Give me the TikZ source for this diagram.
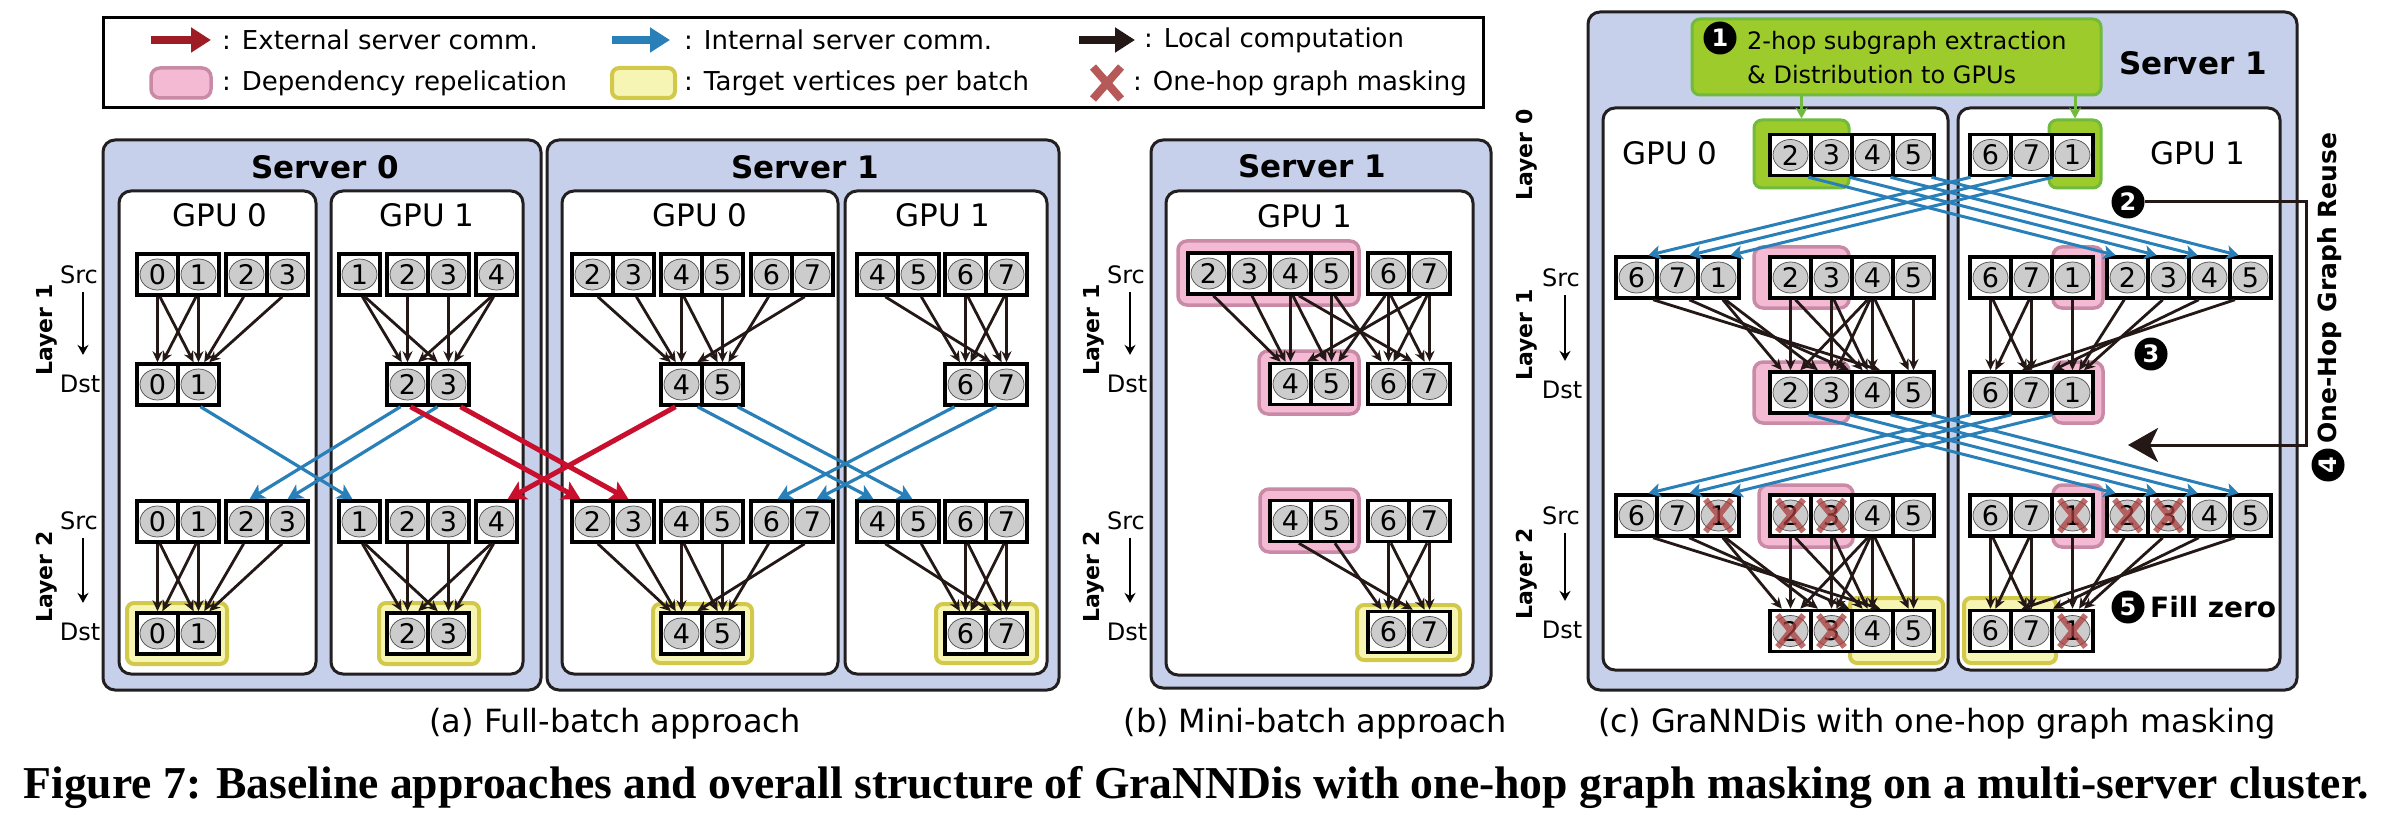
\documentclass[tikz,border=0pt]{standalone}
\usepackage{fontspec}
\setmainfont{DejaVu Sans}
\newfontfamily\capfont{Liberation Serif}
\usepackage{graphicx}
\usetikzlibrary{arrows.meta,calc}
\newcommand{\fsz}[1]{\fontsize{#1pt}{#1pt}\selectfont}
\definecolor{srvfill}{RGB}{198,208,234}
\definecolor{frame}{RGB}{35,31,32}
\definecolor{cellgray}{RGB}{204,204,204}
\definecolor{redc}{RGB}{200,16,46}
\definecolor{redleg}{RGB}{158,28,36}
\definecolor{bluec}{RGB}{41,128,185}
\definecolor{edgec}{RGB}{35,24,21}
\definecolor{pinkf}{RGB}{244,186,212}
\definecolor{pinkd}{RGB}{201,138,166}
\definecolor{yelf}{RGB}{247,245,180}
\definecolor{yeld}{RGB}{210,200,74}
\definecolor{greenf}{RGB}{157,203,44}
\definecolor{greend}{RGB}{112,186,60}
\definecolor{maskc}{RGB}{170,60,60}
\newcommand{\cg}[4]{\foreach \dd [count=\ii from 0] in {#4}{\node[cell] (#1-\dd) at ({#2+20.5+41*\ii},{#3}) {\dd};}}
\newcommand{\bx}[6]{\node[#2,minimum width={#5-#3},minimum height={#6-#4}] (#1) at ({(#3+#5)/2},{(#4+#6)/2}) {};}
\newcommand{\ed}[2]{\draw[loc] let \p1=(#1.south),\p2=(#2.north) in ({\x1+0.06*(\x2-\x1)},\y1) -- ({\x2+0.12*(\x1-\x2)},\y2);}
\newcommand{\xm}[1]{\draw[maskx] ([xshift=-13pt,yshift=16pt]#1.center) -- ([xshift=13pt,yshift=-16pt]#1.center) ([xshift=13pt,yshift=16pt]#1.center) -- ([xshift=-13pt,yshift=-16pt]#1.center);}
\begin{document}
\begin{tikzpicture}[x=1pt,y=-1pt,
 srv/.style={draw=frame,line width=3pt,fill=srvfill,rounded corners=12pt,inner sep=0pt,outer sep=0pt},
 gpu/.style={draw=frame,line width=3pt,fill=white,rounded corners=12pt,inner sep=0pt,outer sep=0pt},
 pinkhl/.style={draw=pinkd,fill=pinkf,line width=3.5pt,rounded corners=9pt,inner sep=0pt},
 yelhl/.style={draw=yeld,fill=yelf,line width=4pt,rounded corners=7pt,inner sep=0pt},
 grnhl/.style={draw=greend,fill=greenf,line width=3pt,rounded corners=8pt,inner sep=0pt},
 cell/.style={draw=black,line width=3.5pt,fill=white,minimum width=41pt,minimum height=41pt,inner sep=0pt,font=\fsz{27},
   path picture={\fill[cellgray] (path picture bounding box.center) ellipse [x radius=17.5pt,y radius=15.5pt];
                 \draw[gray!60!black,line width=0.7pt] (path picture bounding box.center) ellipse [x radius=17.5pt,y radius=15.5pt];}},
 loc/.style={draw=edgec,line width=2.8pt,-{Stealth[length=11pt,width=10pt]}},
 extc/.style={draw=redc,line width=5pt,-{Stealth[length=18pt,width=20pt,inset=4pt]}},
 intc/.style={draw=bluec,line width=3.2pt,-{Stealth[length=15pt,width=16pt,inset=4pt]}},
 intcc/.style={draw=bluec,line width=3pt,-{Stealth[length=12pt,width=14pt,inset=3pt]}},
 maskx/.style={draw=maskc,opacity=0.75,line width=6pt},
 mk/.style={circle,fill=black,text=white,inner sep=0pt,minimum size=33pt,font=\bfseries\fsz{24}},
 ttl/.style={font=\bfseries\fsz{31},inner sep=0pt},
 gl/.style={font=\fsz{31},inner sep=0pt},
 lyr/.style={rotate=90,font=\bfseries\fsz{22},inner sep=0pt},
 sd/.style={font=\fsz{24},inner sep=0pt},
 sdarrow/.style={draw=black,line width=2.5pt,shorten <=8pt,shorten >=20pt,-{Stealth[length=10pt,width=11pt]}},
 leg/.style={font=\fsz{26},anchor=west,inner sep=0pt},
 sub/.style={font=\fsz{32},inner sep=0pt}]
\useasboundingbox (0,0) rectangle (2382,818);
\fill[white] (0,0) rectangle (2382,818);

% ---------------- Legend ----------------
\bx{legend}{draw=black,line width=3pt,inner sep=0pt}{103}{18}{1483}{108}
\coordinate (lra) at (151,40); \coordinate (lrb) at (211,40);
\draw[draw=redleg,line width=8pt,-{Triangle[length=20pt,width=24pt]}] (lra) -- (lrb);
\node[leg] (lt1) at (222,40) {: External server comm.};
\coordinate (lba) at (612,40); \coordinate (lbb) at (670,40);
\draw[draw=bluec,line width=8pt,-{Triangle[length=20pt,width=24pt]}] (lba) -- (lbb);
\node[leg] (lt2) at (684,40) {: Internal server comm.};
\coordinate (lka) at (1079,40); \coordinate (lkb) at (1135,40);
\draw[draw=edgec,line width=8pt,-{Triangle[length=20pt,width=24pt]}] (lka) -- (lkb);
\node[leg] (lt3) at (1144,40) {: Local computation};
\bx{lpink}{pinkhl}{151}{68}{211}{98}
\node[leg] (lt4) at (222,83) {: Dependency repelication};
\bx{lyel}{yelhl}{612}{68}{675}{98}
\node[leg] (lt5) at (684,83) {: Target vertices per batch};
\coordinate (lxc) at (1107,83);
\draw[draw=maskc!85!white,line width=8pt] ([xshift=-14pt,yshift=16pt]lxc) -- ([xshift=14pt,yshift=-16pt]lxc) ([xshift=14pt,yshift=16pt]lxc) -- ([xshift=-14pt,yshift=-16pt]lxc);
\node[leg] (lt6) at (1133,83) {: One-hop graph masking};

% ---------------- containers ----------------
\bx{S0a}{srv}{103}{140}{541}{690}
\bx{S1a}{srv}{547}{140}{1059}{690}
\bx{S1b}{srv}{1151}{140}{1491}{688}
\bx{S1c}{srv}{1588}{12}{2297}{690}
\bx{G00}{gpu}{119}{191}{316}{674}
\bx{G01}{gpu}{331}{191}{523}{674}
\bx{G10}{gpu}{562}{191}{838}{674}
\bx{G11}{gpu}{845}{191}{1047}{674}
\bx{Gb}{gpu}{1166}{191}{1473}{675}
\bx{Gc0}{gpu}{1603}{108}{1948}{670}
\bx{Gc1}{gpu}{1958}{108}{2280}{670}

\node[ttl] (tS0a) at (325,167) {Server 0};
\node[ttl] (tS1a) at (805,167) {Server 1};
\node[ttl] (tS1b) at (1312,166) {Server 1};
\node[ttl] (tS1c) at (2193,63) {Server 1};
\node[gl] (tG00) at (220,215) {GPU 0};
\node[gl] (tG01) at (427,215) {GPU 1};
\node[gl] (tG10) at (700,215) {GPU 0};
\node[gl] (tG11) at (943,215) {GPU 1};
\node[gl] (tGb) at (1305,216) {GPU 1};
\node[gl] (tGc0) at (1670,153) {GPU 0};
\node[gl] (tGc1) at (2198,153) {GPU 1};

% ---------------- layer labels ----------------
\node[lyr] (la1) at (47,330) {Layer 1};
\node[sd] (sa1) at (79,275) {Src}; \node[sd] (da1) at (80,384) {Dst};
\draw[sdarrow] ([xshift=4pt]sa1.south) -- ([xshift=3pt]da1.north);
\node[lyr] (la2) at (47,577) {Layer 2};
\node[sd] (sa2) at (79,521) {Src}; \node[sd] (da2) at (80,632) {Dst};
\draw[sdarrow] ([xshift=4pt]sa2.south) -- ([xshift=3pt]da2.north);

\node[lyr] (lb1) at (1094,330) {Layer 1};
\node[sd] (sb1) at (1126,275) {Src}; \node[sd] (db1) at (1127,384) {Dst};
\draw[sdarrow] ([xshift=4pt]sb1.south) -- ([xshift=3pt]db1.north);
\node[lyr] (lb2) at (1094,577) {Layer 2};
\node[sd] (sb2) at (1126,521) {Src}; \node[sd] (db2) at (1127,632) {Dst};
\draw[sdarrow] ([xshift=4pt]sb2.south) -- ([xshift=3pt]db2.north);

\node[lyr] (lc0) at (1527,155) {Layer 0};
\node[lyr] (lc1) at (1527,335) {Layer 1};
\node[sd] (sc1) at (1561,278) {Src}; \node[sd] (dc1) at (1562,390) {Dst};
\draw[sdarrow] ([xshift=4pt]sc1.south) -- ([xshift=3pt]dc1.north);
\node[lyr] (lc2) at (1527,574) {Layer 2};
\node[sd] (sc2) at (1561,516) {Src}; \node[sd] (dc2) at (1562,630) {Dst};
\draw[sdarrow] ([xshift=4pt]sc2.south) -- ([xshift=3pt]dc2.north);

% ---------------- highlights ----------------
\bx{ya00}{yelhl}{127}{603}{227}{664}
\bx{ya01}{yelhl}{379}{603}{479}{664}
\bx{ya10}{yelhl}{653}{604}{752}{663}
\bx{ya11}{yelhl}{936}{604}{1037}{663}
\bx{pb1}{pinkhl}{1178}{241}{1359}{305}
\bx{pb2}{pinkhl}{1259}{351}{1359}{414}
\bx{pb3}{pinkhl}{1260}{489}{1359}{552}
\bx{yb}{yelhl}{1357}{605}{1460}{660}
\bx{gbox}{grnhl}{1692}{19}{2101}{95}
\bx{ghl0}{grnhl}{1754}{120}{1849}{188}
\bx{ghl1}{grnhl}{2049}{120}{2101}{188}
\bx{pc01}{pinkhl}{1754}{247}{1849}{308}
\bx{pc02}{pinkhl}{1754}{362}{1849}{423}
\bx{pc03}{pinkhl}{1759}{485}{1853}{547}
\bx{pc11}{pinkhl}{2053}{247}{2103}{308}
\bx{pc12}{pinkhl}{2053}{362}{2103}{423}
\bx{pc13}{pinkhl}{2053}{485}{2103}{547}
\bx{yc0}{yelhl}{1850}{598}{1943}{663}
\bx{yc1}{yelhl}{1964}{598}{2056}{663}

% ---------------- cells (a) ----------------
\cg{a00s1}{137}{274.5}{0,1} \cg{a00s1}{226}{274.5}{2,3}
\cg{a00d1}{137}{384.5}{0,1}
\cg{a00s2}{137}{521.5}{0,1} \cg{a00s2}{226}{521.5}{2,3}
\cg{a00d2}{137}{633.5}{0,1}
\cg{a01s1}{339}{274.5}{1} \cg{a01s1}{387}{274.5}{2,3} \cg{a01s1}{476}{274.5}{4}
\cg{a01d1}{387}{384.5}{2,3}
\cg{a01s2}{339}{521.5}{1} \cg{a01s2}{387}{521.5}{2,3} \cg{a01s2}{476}{521.5}{4}
\cg{a01d2}{387}{633.5}{2,3}
\cg{a10s1}{572}{274.5}{2,3} \cg{a10s1}{661}{274.5}{4,5} \cg{a10s1}{751}{274.5}{6,7}
\cg{a10d1}{661}{384.5}{4,5}
\cg{a10s2}{572}{521.5}{2,3} \cg{a10s2}{661}{521.5}{4,5} \cg{a10s2}{751}{521.5}{6,7}
\cg{a10d2}{661}{633.5}{4,5}
\cg{a11s1}{857}{274.5}{4,5} \cg{a11s1}{945}{274.5}{6,7}
\cg{a11d1}{945}{384.5}{6,7}
\cg{a11s2}{857}{521.5}{4,5} \cg{a11s2}{945}{521.5}{6,7}
\cg{a11d2}{945}{633.5}{6,7}
% ---------------- cells (b) ----------------
\cg{bs1}{1188}{273.5}{2,3,4,5} \cg{bs1}{1368}{273.5}{6,7}
\cg{bd1}{1270}{384}{4,5} \cg{bd1}{1368}{384}{6,7}
\cg{bs2}{1270}{521}{4,5} \cg{bs2}{1368}{521}{6,7}
\cg{bd2}{1368}{632}{6,7}
% ---------------- cells (c) ----------------
\cg{c0L0}{1770}{155}{2,3,4,5}
\cg{c1L0}{1970}{155}{6,7,1}
\cg{c0s1}{1616}{277.5}{6,7,1} \cg{c0s1}{1770}{277.5}{2,3,4,5}
\cg{c1s1}{1970}{277.5}{6,7,1} \cg{c1s1}{2107}{277.5}{2,3,4,5}
\cg{c0d1}{1770}{392.5}{2,3,4,5}
\cg{c1d1}{1970}{392.5}{6,7,1}
\cg{c0s2}{1616}{515.5}{6,7,1} \cg{c0s2}{1770}{515.5}{2,3,4,5}
\cg{c1s2}{1970}{515.5}{6,7,1} \cg{c1s2}{2107}{515.5}{2,3,4,5}
\cg{c0d2}{1770}{631}{2,3,4,5}
\cg{c1d2}{1970}{631}{6,7,1}

% ---------------- local edges ----------------
\foreach \sa/\ta in {0/0,0/1,1/0,1/1,2/1,3/1} {\ed{a00s1-\sa}{a00d1-\ta} \ed{a00s2-\sa}{a00d2-\ta}}
\foreach \sa/\ta in {1/2,1/3,2/2,3/3,4/2,4/3} {\ed{a01s1-\sa}{a01d1-\ta} \ed{a01s2-\sa}{a01d2-\ta}}
\foreach \sa/\ta in {2/4,3/4,4/4,4/5,5/5,6/5,7/4} {\ed{a10s1-\sa}{a10d1-\ta} \ed{a10s2-\sa}{a10d2-\ta}}
\foreach \sa/\ta in {4/7,5/6,6/6,6/7,7/6,7/7} {\ed{a11s1-\sa}{a11d1-\ta} \ed{a11s2-\sa}{a11d2-\ta} \ed{bs2-\sa}{bd2-\ta}}
\foreach \sa/\ta in {2/4,3/4,4/4,4/5,5/5,6/5,7/4,4/7,5/6,6/6,6/7,7/6,7/7} {\ed{bs1-\sa}{bd1-\ta}}
\foreach \sa/\ta in {1/2,1/3,7/4,6/5,2/2,2/4,3/3,3/4,4/2,4/3,4/4,4/5,5/5} {\ed{c0s1-\sa}{c0d1-\ta} \ed{c0s2-\sa}{c0d2-\ta}}
\foreach \sa/\ta in {6/6,6/7,7/6,7/7,5/6,4/7,1/1,2/1,3/1} {\ed{c1s1-\sa}{c1d1-\ta} \ed{c1s2-\sa}{c1d2-\ta}}

% ---------------- masks ----------------
\foreach \nn in {c0s2-1,c0s2-2,c0s2-3,c0d2-2,c0d2-3,c1s2-1,c1s2-2,c1s2-3,c1d2-1} {\xm{\nn}}

% ---------------- communication (a) ----------------
\draw[intc] ([xshift=2pt]a00d1-1.south) -- ([xshift=-7pt]a01s2-1.north);
\draw[intc] ([xshift=-7pt]a01d1-2.south) -- ([xshift=3pt]a00s2-2.north);
\draw[intc] ([xshift=-11pt]a01d1-3.south) -- (a00s2-3.north);
\draw[intc] ([xshift=16pt]a10d1-4.south) -- ([xshift=-4pt]a11s2-4.north);
\draw[intc] ([xshift=15pt]a10d1-5.south) -- ([xshift=-6pt]a11s2-5.north);
\draw[intc] ([xshift=-11pt]a11d1-6.south) -- ([xshift=6pt]a10s2-6.north);
\draw[intc] ([xshift=-10pt]a11d1-7.south) -- ([xshift=4pt]a10s2-7.north);
\draw[extc] ([xshift=3pt]a01d1-2.south) -- ([xshift=-12pt]a10s2-2.north);
\draw[extc] ([xshift=12pt]a01d1-3.south) -- ([xshift=-5pt]a10s2-3.north);
\draw[extc] ([xshift=-6pt]a10d1-4.south) -- ([xshift=11pt]a01s2-4.north);

% ---------------- communication (c) ----------------
\foreach \v in {2,3,4,5} {
  \draw[intcc] ([xshift=18pt]c0L0-\v.south) -- ([xshift=-12pt]c1s1-\v.north);
  \draw[intcc] ([xshift=18pt]c0d1-\v.south) -- ([xshift=-12pt]c1s2-\v.north);}
\foreach \v in {6,7,1} {
  \draw[intcc] ([xshift=-20pt]c1L0-\v.south) -- ([xshift=12pt]c0s1-\v.north);
  \draw[intcc] ([xshift=-20pt]c1d1-\v.south) -- ([xshift=12pt]c0s2-\v.north);}
\draw[draw=greend,line width=3pt,-{Stealth[length=11pt,width=12pt]}] (ghl0.north |- gbox.south) -- (ghl0.north);
\draw[draw=greend,line width=3pt,-{Stealth[length=11pt,width=12pt]}] (ghl1.north |- gbox.south) -- (ghl1.north);

% ---------------- (c) annotations ----------------
\node[mk] (m1) at (1720,38) {1};
\node[font=\fsz{24},anchor=west,inner sep=0pt] (gt1) at (1747,43) {2-hop subgraph extraction};
\node[font=\fsz{24},anchor=west,inner sep=0pt] (gt2) at (1747,75) {\& Distribution to GPUs};
\node[mk] (m2) at (2128,202) {2};
\node[mk] (m3) at (2151,354) {3};
\node[mk] (m5) at (2128,607) {5};
\node[font=\bfseries\fsz{28},anchor=west,inner sep=0pt] (fz) at (2150,607) {Fill zero};
\coordinate (rc) at (2306,445);
\coordinate (rtip) at (2128,445);
\draw[draw=edgec,line width=3pt,-{Stealth[length=30pt,width=34pt,inset=8pt]}] (m2.east) -| (rc) -- (rtip);
\node[mk,rotate=90] (m4) at (2328,465) {4};
\node[lyr,font=\bfseries\fsz{25}] (reuse) at (2330,288) {One-Hop Graph Reuse};

% ---------------- captions ----------------
\node[sub] (capa) at (615,724) {(a) Full-batch approach};
\node[sub] (capb) at (1315,724) {(b) Mini-batch approach};
\node[sub] (capc) at (1937,724) {(c) GraNNDis with one-hop graph masking};
\node[font=\capfont\bfseries\fsz{40},inner sep=0pt] (fig) at (1196,787) {\resizebox{2345pt}{!}{Figure 7: Baseline approaches and overall structure of GraNNDis with one-hop graph masking on a multi-server cluster.}};
\end{tikzpicture}
\end{document}
